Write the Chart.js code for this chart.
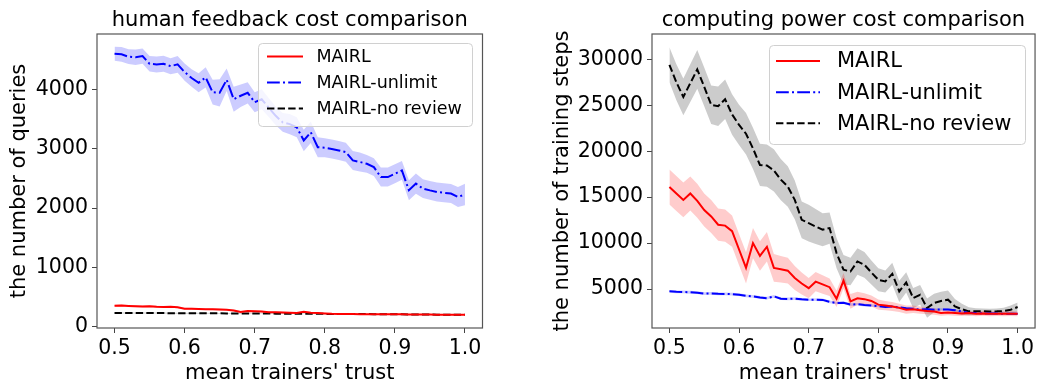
<!DOCTYPE html>
<html>
<head>
<meta charset="utf-8">
<script src="https://cdn.jsdelivr.net/npm/chart.js@4"></script>
<style>
  html, body { margin: 0; padding: 0; background: #fff; }
  #wrap { position: relative; width: 1037px; height: 387px; }
  canvas { position: absolute; top: 0; }
  #left { left: 0; }
  #right { left: 530px; }
</style>
</head>
<body>
<div id="wrap">
  <canvas id="left" width="530" height="387"></canvas>
  <canvas id="right" width="507" height="387"></canvas>
</div>
<script>
const trust = [
  0.50, 0.51, 0.52, 0.53, 0.54, 0.55, 0.56, 0.57, 0.58, 0.59,
  0.60, 0.61, 0.62, 0.63, 0.64, 0.65, 0.66, 0.67, 0.68, 0.69,
  0.70, 0.71, 0.72, 0.73, 0.74, 0.75, 0.76, 0.77, 0.78, 0.79,
  0.80, 0.81, 0.82, 0.83, 0.84, 0.85, 0.86, 0.87, 0.88, 0.89,
  0.90, 0.91, 0.92, 0.93, 0.94, 0.95, 0.96, 0.97, 0.98, 0.99,
  1.00
];
const trustTicks = [0.5, 0.6, 0.7, 0.8, 0.9, 1.0];
const queryTicks = [0, 1000, 2000, 3000, 4000];
const stepTicks = [5000, 10000, 15000, 20000, 25000, 30000];
const seriesNames = ["MAIRL", "MAIRL-unlimit", "MAIRL-no review"];

// human feedback cost (number of queries)
const queriesMairl = [
  348, 352, 346, 342, 336, 340, 332, 328, 331, 322,
  300, 298, 295, 292, 290, 286, 282, 270, 245, 262,
  255, 250, 240, 238, 236, 232, 225, 248, 232, 225,
  218, 212, 210, 209, 208, 207, 206, 206, 205, 205,
  205, 204, 203, 202, 201, 200, 199, 198, 197, 196,
  195
];
const queriesUnlimit = [
  4610, 4600, 4560, 4550, 4570, 4440, 4430, 4440, 4400, 4430,
  4300, 4200, 4120, 4210, 3960, 3950, 4170, 3840, 3900, 3950,
  3790, 3840, 3700, 3560, 3450, 3420, 3367, 3143, 3283, 3030,
  3020, 3000, 2975, 2946, 2806, 2780, 2750, 2694, 2525, 2525,
  2580, 2638, 2301, 2414, 2330, 2300, 2273, 2260, 2246, 2189,
  2230
];
const queriesNoReview = [
  228, 228, 227, 227, 226, 226, 225, 225, 224, 224,
  223, 223, 222, 222, 221, 221, 220, 220, 219, 219,
  218, 218, 217, 216, 216, 215, 214, 214, 213, 212,
  212, 211, 210, 210, 209, 208, 208, 207, 206, 205,
  205, 204, 203, 202, 201, 200, 199, 198, 197, 196,
  195
];
const queriesMairlSpread = [
  18, 18, 18, 18, 17, 17, 17, 17, 16, 16,
  16, 16, 15, 15, 15, 15, 14, 14, 14, 14,
  13, 13, 13, 13, 12, 12, 12, 12, 11, 11,
  11, 11, 10, 10, 10, 10, 9, 9, 9, 9,
  8, 8, 8, 8, 8, 7, 7, 7, 7, 7,
  7
];
const queriesUnlimitSpread = [
  120, 125, 125, 130, 130, 130, 135, 135, 135, 140,
  145, 150, 160, 170, 210, 230, 190, 210, 190, 180,
  170, 170, 160, 160, 160, 170, 170, 180, 180, 170,
  160, 160, 160, 160, 160, 160, 150, 150, 160, 160,
  160, 160, 170, 170, 160, 160, 160, 160, 160, 170,
  180
];
const queriesNoReviewSpread = [
  8, 8, 8, 8, 8, 8, 8, 8, 8, 8,
  7, 7, 7, 7, 7, 7, 7, 7, 7, 7,
  6, 6, 6, 6, 6, 6, 6, 6, 6, 6,
  5, 5, 5, 5, 5, 5, 5, 5, 5, 5,
  4, 4, 4, 4, 4, 4, 4, 4, 4, 4,
  4
];

// computing power cost (number of training steps)
const stepsMairl = [
  16100, 15400, 14700, 15400, 14600, 13600, 12900, 12000, 11900, 11300,
  9300, 7300, 10000, 8600, 9600, 7300, 7150, 7000, 6200, 5600,
  5100, 5800, 5500, 5200, 3950, 5900, 3650, 4000, 3900, 3700,
  3300, 3200, 3100, 2950, 2750, 2800, 2700, 2600, 2550, 2400,
  2450, 2400, 2350, 2380, 2300, 2350, 2300, 2320, 2300, 2320,
  2300
];
const stepsUnlimit = [
  4750, 4700, 4680, 4650, 4600, 4500, 4520, 4480, 4470, 4450,
  4380, 4250, 4200, 4080, 4000, 4200, 3950, 3920, 3950, 3880,
  3830, 3850, 3820, 3600, 3480, 3500, 3300, 3350, 3250, 3200,
  3150, 3050, 3100, 3000, 2900, 2850, 2750, 2800, 2750, 2780,
  2760, 2700, 2550, 2400, 2380, 2350, 2350, 2330, 2320, 2310,
  2300
];
const stepsNoReview = [
  29400, 27500, 25900, 27400, 28900, 27000, 25050, 24900, 25650, 24000,
  22860, 21900, 20300, 18500, 18440, 17900, 16900, 16150, 14700, 12530,
  12170, 11800, 11450, 11630, 8910, 7100, 6910, 8000, 7640, 6800,
  6010, 5830, 6660, 4740, 5720, 4020, 4380, 2930, 3480, 3700,
  3840, 3110, 2800, 2570, 2570, 2580, 2560, 2570, 2600, 2750,
  3040
];
const stepsMairlSpread = [
  1900, 1900, 1900, 1850, 1850, 1800, 1800, 1750, 1750, 1700,
  1700, 1700, 1650, 1600, 1600, 1500, 1450, 1400, 1300, 1200,
  1100, 1050, 1000, 950, 900, 850, 800, 700, 650, 600,
  550, 500, 500, 450, 450, 400, 400, 350, 350, 300,
  300, 300, 280, 260, 250, 250, 250, 250, 250, 250,
  250
];
const stepsUnlimitSpread = [
  150, 150, 150, 150, 150, 150, 150, 150, 150, 150,
  150, 150, 150, 150, 150, 150, 150, 150, 150, 150,
  140, 140, 140, 140, 140, 140, 140, 140, 140, 140,
  130, 130, 130, 130, 130, 130, 130, 130, 130, 130,
  120, 120, 120, 120, 120, 120, 120, 120, 120, 120,
  120
];
const stepsNoReviewSpread = [
  1900, 1950, 2000, 2050, 2100, 2100, 2100, 2150, 2150, 2200,
  2200, 2250, 2250, 2300, 2300, 2300, 2250, 2200, 2100, 2000,
  2000, 1900, 1800, 1700, 1650, 1600, 1500, 1450, 1400, 1300,
  1250, 1200, 1200, 1150, 1100, 1100, 1050, 1050, 1000, 1000,
  1000, 800, 600, 450, 350, 300, 300, 300, 350, 450,
  500
];

Chart.defaults.font.family = "'DejaVu Sans', sans-serif";
Chart.defaults.color = "#000";

const styles = [
  { color: "#ff0000", band: "rgba(255,0,0,0.2)", dash: [] },
  { color: "#0000ff", band: "rgba(0,0,255,0.2)", dash: [12.8, 3.2, 2, 3.2] },
  { color: "#000000", band: "rgba(0,0,0,0.2)", dash: [7.4, 3.2] },
];

const pts = (arr) => arr.map((v, i) => ({ x: trust[i], y: v }));

const buildDatasets = (means, spreads) => {
  const sets = [];
  means.forEach((m, k) => {
    sets.push({
      data: pts(m.map((v, i) => v + spreads[k][i])),
      fill: "+1", backgroundColor: styles[k].band,
      borderColor: "rgba(0,0,0,0)", borderWidth: 0, pointRadius: 0, order: 2,
    });
    sets.push({
      data: pts(m.map((v, i) => v - spreads[k][i])),
      fill: false, borderColor: "rgba(0,0,0,0)", borderWidth: 0, pointRadius: 0, order: 2,
    });
  });
  means.forEach((m, k) => {
    sets.push({
      label: seriesNames[k], data: pts(m), fill: false,
      borderColor: styles[k].color, borderWidth: 2, borderDash: styles[k].dash,
      pointRadius: 0, order: 1,
    });
  });
  return sets;
};

// spines, titles, axis labels
const frame = {
  id: "frame",
  afterDatasetsDraw(chart, args, opts) {
    const { ctx, chartArea: a } = chart;
    ctx.save();
    ctx.strokeStyle = "#555";
    ctx.lineWidth = 1.2;
    ctx.strokeRect(a.left, a.top, a.right - a.left, a.bottom - a.top);
    ctx.fillStyle = "#000";
    ctx.font = "21px 'DejaVu Sans'";
    ctx.textAlign = "center";
    ctx.textBaseline = "alphabetic";
    const cx = (a.left + a.right) / 2;
    ctx.fillText(opts.title, cx, 26);
    ctx.fillText(opts.xLabel, cx, 379);
    ctx.translate(opts.yLabelX, (a.top + a.bottom) / 2);
    ctx.rotate(-Math.PI / 2);
    ctx.fillText(opts.yLabel, 0, 0);
    ctx.restore();
  },
};

const legendBox = {
  id: "legendBox",
  afterDraw(chart, args, opts) {
    const ctx = chart.ctx;
    ctx.save();
    ctx.fillStyle = "rgba(255,255,255,0.8)";
    ctx.strokeStyle = "#d0d0d0";
    ctx.lineWidth = 1;
    ctx.beginPath();
    ctx.roundRect(opts.x, opts.y, opts.w, opts.h, 4);
    ctx.fill();
    ctx.stroke();
    ctx.font = opts.size + "px 'DejaVu Sans'";
    ctx.textBaseline = "middle";
    ctx.textAlign = "left";
    seriesNames.forEach((name, k) => {
      const y = opts.rows[k];
      ctx.strokeStyle = styles[k].color;
      ctx.lineWidth = 2;
      ctx.setLineDash(styles[k].dash);
      ctx.beginPath();
      ctx.moveTo(opts.lineX[0], y);
      ctx.lineTo(opts.lineX[1], y);
      ctx.stroke();
      ctx.setLineDash([]);
      ctx.fillStyle = "#000";
      ctx.fillText(name, opts.textX, y + 1);
    });
    ctx.restore();
  },
};

const makeChart = (el, cfg) => {
  new Chart(el, {
    type: "line",
    data: { datasets: buildDatasets(cfg.means, cfg.spreads) },
    plugins: [frame, legendBox],
    options: {
      responsive: false,
      animation: false,
      layout: { padding: { left: 0, top: 34, right: cfg.padRight, bottom: 0 } },
      plugins: {
        legend: { display: false },
        tooltip: { enabled: false },
        filler: { drawTime: "beforeDatasetsDraw" },
        frame: cfg.frame,
        legendBox: cfg.legend,
      },
      scales: {
        x: {
          type: "linear", min: 0.475, max: 1.025,
          border: { display: false },
          grid: { drawOnChartArea: false, tickLength: 5, tickColor: "#444" },
          afterBuildTicks: (s) => { s.ticks = trustTicks.map((v) => ({ value: v })); },
          afterFit: (s) => { s.height = 59; },
          ticks: { font: { size: 20.5 }, padding: 3, maxRotation: 0, callback: (v) => Number(v).toFixed(1) },
        },
        y: {
          type: "linear", min: cfg.yMin, max: cfg.yMax,
          border: { display: false },
          grid: { drawOnChartArea: false, tickLength: 5, tickColor: "#444" },
          afterBuildTicks: (s) => { s.ticks = cfg.yTicks.map((v) => ({ value: v })); },
          afterFit: (s) => { s.width = cfg.yWidth; },
          ticks: { font: { size: 20.5 }, padding: 4, callback: (v) => String(v) },
        },
      },
    },
  });
};

makeChart(document.getElementById("left"), {
  means: [queriesMairl, queriesUnlimit, queriesNoReview],
  spreads: [queriesMairlSpread, queriesUnlimitSpread, queriesNoReviewSpread],
  yMin: -27, yMax: 4944, yTicks: queryTicks, yWidth: 97, padRight: 47.5,
  frame: { title: "human feedback cost comparison", xLabel: "mean trainers' trust", yLabel: "the number of queries", yLabelX: 25 },
  legend: { x: 258.5, y: 43.5, w: 214, h: 83, size: 17.5, rows: [56.5, 82.5, 108.5], lineX: [267, 303], textX: 316.5 },
});

makeChart(document.getElementById("right"), {
  means: [stepsMairl, stepsUnlimit, stepsNoReview],
  spreads: [stepsMairlSpread, stepsUnlimitSpread, stepsNoReviewSpread],
  yMin: 760, yMax: 32750, yTicks: stepTicks, yWidth: 122, padRight: 1.5,
  frame: { title: "computing power cost comparison", xLabel: "mean trainers' trust", yLabel: "the number of training steps", yLabelX: 38 },
  legend: { x: 239.5, y: 45.5, w: 256, h: 99, size: 21, rows: [61, 92.3, 123.3], lineX: [246, 290], textX: 307 },
});
</script>
</body>
</html>
